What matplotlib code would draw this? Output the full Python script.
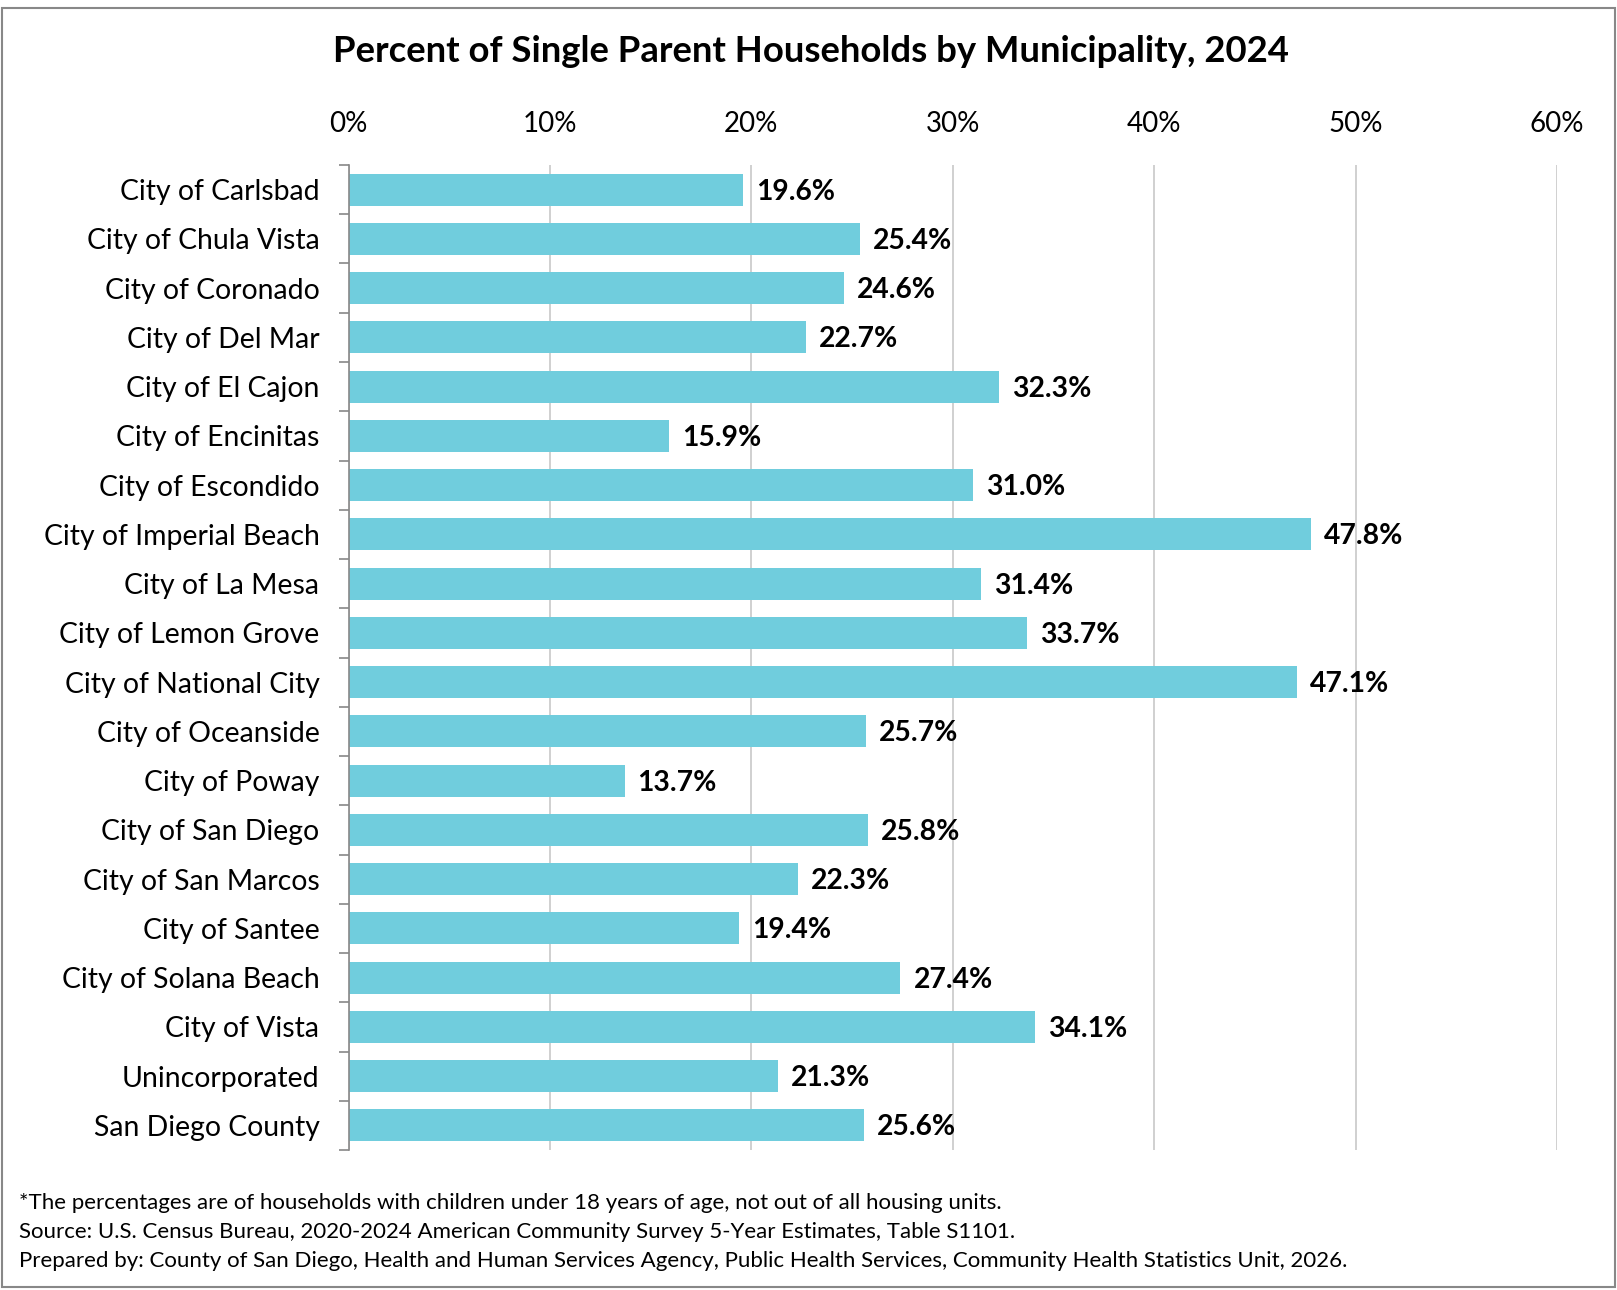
import matplotlib.pyplot as plt
from matplotlib.patches import Rectangle

# Data
municipalities = [
    'City of Carlsbad', 'City of Chula Vista', 'City of Coronado', 'City of Del Mar',
    'City of El Cajon', 'City of Encinitas', 'City of Escondido', 'City of Imperial Beach',
    'City of La Mesa', 'City of Lemon Grove', 'City of National City', 'City of Oceanside',
    'City of Poway', 'City of San Diego', 'City of San Marcos', 'City of Santee',
    'City of Solana Beach', 'City of Vista', 'Unincorporated', 'San Diego County',
]
pct_single_parent = [
    19.6, 25.4, 24.6, 22.7, 32.3, 15.9, 31.0, 47.8, 31.4, 33.7,
    47.1, 25.7, 13.7, 25.8, 22.3, 19.4, 27.4, 34.1, 21.3, 25.6,
]
x_ticks = [0, 10, 20, 30, 40, 50, 60]
x_tick_labels = ['0%', '10%', '20%', '30%', '40%', '50%', '60%']

footer_lines = [
    '*The percentages are of households with children under 18 years of age, not out of all housing units.',
    'Source: U.S. Census Bureau, 2020-2024 American Community Survey 5-Year Estimates, Table S1101.',
    'Prepared by: County of San Diego, Health and Human Services Agency, Public Health Services, Community Health Statistics Unit, 2026.',
]

plt.rcParams['font.family'] = ['Lato', 'DejaVu Sans']

fig = plt.figure(figsize=(16.17, 12.9), dpi=100)
ax = fig.add_axes([0.2156, 0.1085, 0.7473, 0.7636])

ypos = list(range(len(municipalities)))
ax.barh(ypos, pct_single_parent, height=0.65, color='#70CDDD', zorder=2)

for y, v in zip(ypos, pct_single_parent):
    ax.annotate(f'{v:.1f}%', xy=(v, y), xytext=(13, -2), textcoords='offset pixels',
                va='center', ha='left', fontsize=20.3, fontweight='bold', zorder=1)

ax.set_xlim(0, 60)
ax.set_ylim(len(municipalities) - 0.5, -0.5)
ax.xaxis.tick_top()
ax.set_xticks(x_ticks)
ax.set_xticklabels(x_tick_labels, fontsize=20)
ax.tick_params(axis='x', length=0, pad=20)

# category labels centred, tick marks at the boundaries
ax.set_yticks(ypos)
ax.set_yticklabels(municipalities, fontsize=20.4)
ax.tick_params(axis='y', which='major', length=0, pad=21)
ax.set_yticks([i - 0.5 for i in range(len(municipalities) + 1)], minor=True)
ax.tick_params(axis='y', which='minor', length=7, color='#888888', width=1.2, direction='out')

ax.grid(axis='x', color='#C8C8C8', linewidth=1.2, zorder=0)
ax.set_axisbelow(True)
for side in ['top', 'right', 'bottom']:
    ax.spines[side].set_visible(False)
ax.spines['left'].set_color('#888888')
ax.spines['left'].set_linewidth(1.2)

fig.text(0.5018, 0.9600, 'Percent of Single Parent Households by Municipality, 2024',
         ha='center', va='center', fontsize=26.3, fontweight='bold')

for i, line in enumerate(footer_lines):
    fig.text(0.0118, 0.0676 - i * 0.0225, line, ha='left', va='center', fontsize=16)

fig.patches.append(Rectangle((0.0015, 0.0025), 0.997, 0.9915, transform=fig.transFigure,
                             fill=False, edgecolor='#888888', linewidth=1.5))

fig.savefig('out.png', dpi=100)
